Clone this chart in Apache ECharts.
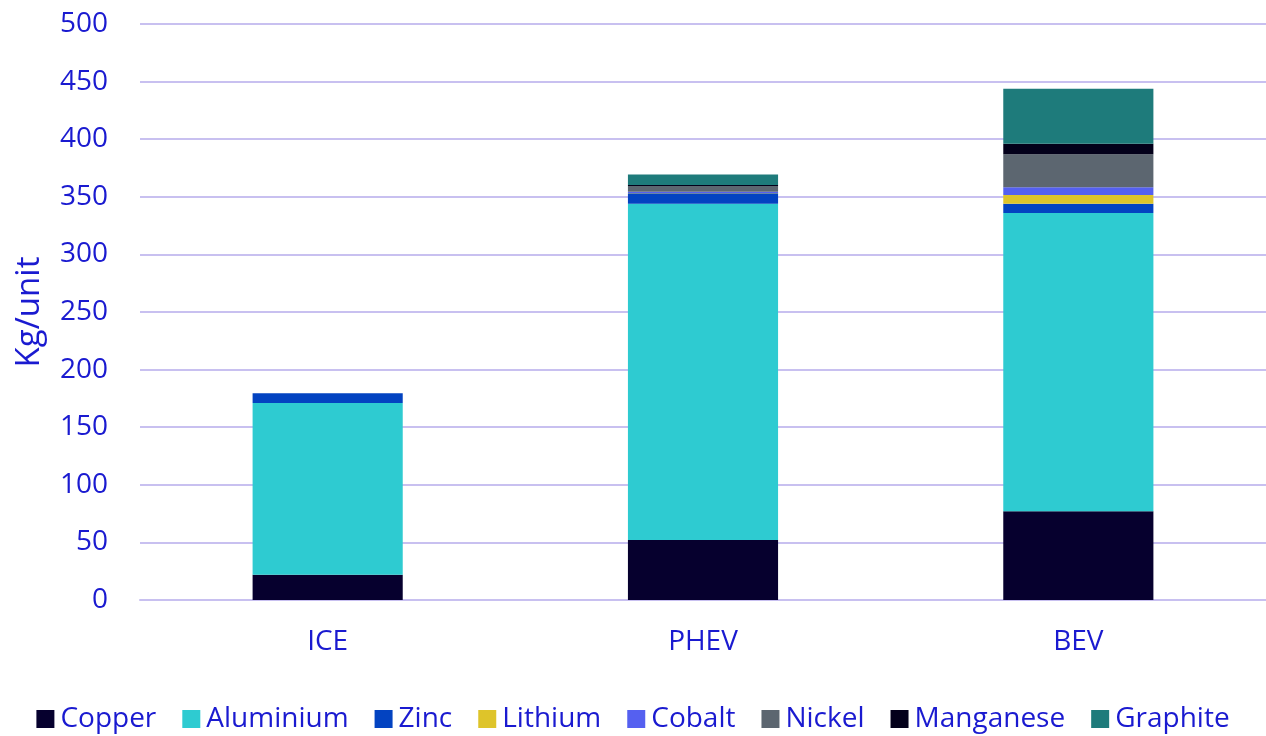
<!DOCTYPE html>
<html><head><meta charset="utf-8">
<script src="https://cdn.jsdelivr.net/npm/echarts@6/dist/echarts.min.js"></script>
<style>html,body{margin:0;padding:0;background:#fff}#c{width:1266px;height:736px}</style>
</head><body><div id="c"></div>
<script>
const categories = ['ICE', 'PHEV', 'BEV'];
const seriesNames = ['Copper', 'Aluminium', 'Zinc', 'Lithium', 'Cobalt', 'Nickel', 'Manganese', 'Graphite'];
const copper    = [22, 52, 77];
const aluminium = [149, 292, 259];
const zinc      = [8.5, 9, 8];
const lithium   = [0, 0.3, 7.5];
const cobalt    = [0, 1, 6.7];
const nickel    = [0, 5, 28.7];
const manganese = [0, 1, 9.2];
const graphite  = [0, 9, 47.8];
const colors = ['#06002e', '#2ecbd1', '#0343c1', '#dec42a', '#5560f0', '#5c6670', '#03001a', '#1e7b7b'];
const values = [copper, aluminium, zinc, lithium, cobalt, nickel, manganese, graphite];
const txt = '#1a1ad0';
const font = 'Open Sans';
const chart = echarts.init(document.getElementById('c'));
chart.setOption({
  animation: false,
  grid: { left: 140, right: 0, top: 24, bottom: 136 },
  legend: {
    bottom: -2, left: 'center', itemWidth: 18, itemHeight: 18, itemGap: 26,
    icon: 'rect',
    textStyle: { color: txt, fontSize: 28, fontFamily: font, padding: [0, 0, 0, 1] },
    data: seriesNames
  },
  xAxis: {
    type: 'category', data: categories,
    axisLine: { lineStyle: { color: '#c8c0f0', width: 2 } },
    axisTick: { show: false },
    axisLabel: { color: txt, fontSize: 28, fontFamily: font, margin: 28 }
  },
  yAxis: {
    type: 'value', min: 0, max: 500, interval: 50,
    name: 'Kg/unit', nameLocation: 'middle', nameGap: 94, nameRotate: 90,
    nameTextStyle: { color: txt, fontSize: 33, fontFamily: font },
    axisLine: { show: false }, axisTick: { show: false },
    axisLabel: { color: txt, fontSize: 28, fontFamily: font, margin: 32 },
    splitLine: { lineStyle: { color: '#c8c0f0', width: 2 } }
  },
  series: seriesNames.map((n, i) => ({
    name: n, type: 'bar', stack: 'total', barWidth: '40%',
    itemStyle: { color: colors[i] },
    data: values[i]
  }))
});
</script></body></html>
